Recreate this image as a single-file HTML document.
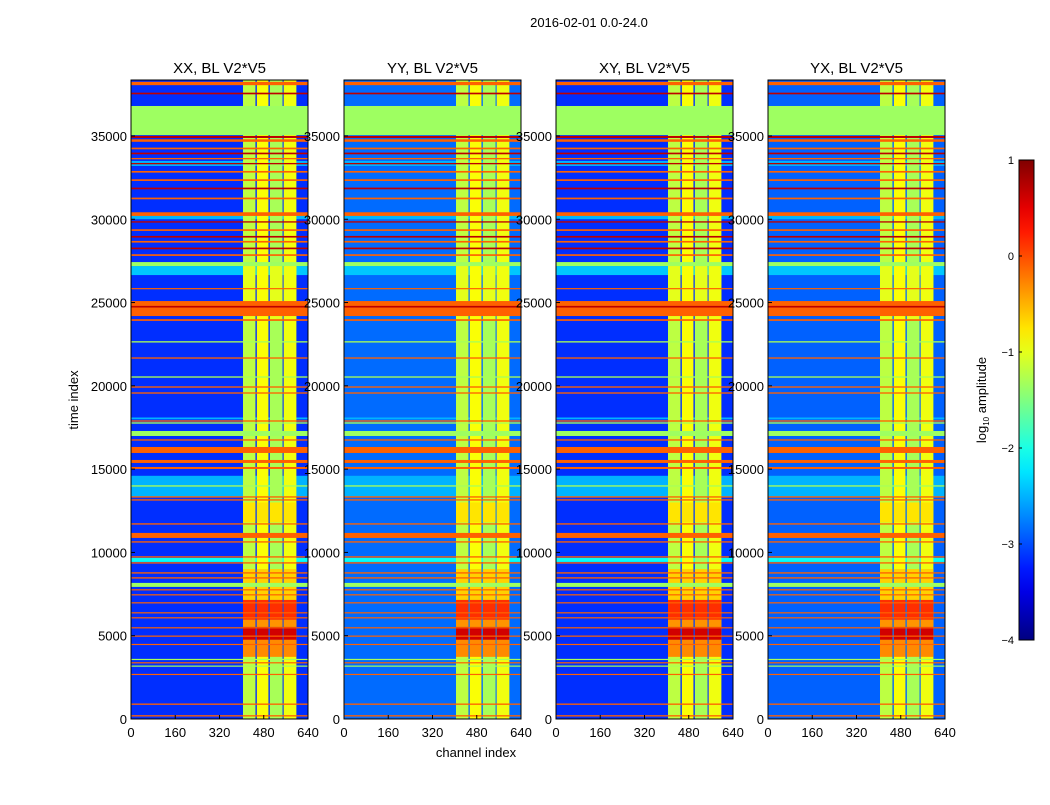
<!DOCTYPE html>
<html><head><meta charset="utf-8">
<style>
body{margin:0;background:#fff;}
svg text{font-family:"Liberation Sans",sans-serif;fill:#000;}
</style></head>
<body>
<svg id="fig" width="1050" height="800" xmlns="http://www.w3.org/2000/svg">
<rect width="1050" height="800" fill="#fff"/>
<text x="589" y="27" font-size="13" text-anchor="middle">2016-02-01 0.0-24.0</text>
<text x="476" y="757" font-size="13" text-anchor="middle">channel index</text>
<text transform="translate(78,400) rotate(-90)" font-size="13" text-anchor="middle">time index</text>
<g id="panels"></g>
<g id="cbar"></g>
<text transform="translate(986,400) rotate(-90)" font-size="13" text-anchor="middle">log<tspan font-size="8" dy="3">10</tspan><tspan dy="-3"> amplitude</tspan></text>
</svg>
<script>
// ---- data ----
const panelTitles = ["XX, BL V2*V5","YY, BL V2*V5","XY, BL V2*V5","YX, BL V2*V5"];
const panelBackground = [-3.15, -2.85, -3.15, -2.9];
const xTicks = [0,160,320,480,640];
const yTicks = [0,5000,10000,15000,20000,25000,30000,35000];
const cbarTicks = [1,0,-1,-2,-3,-4];
// background bands [t0,t1,value]
const bgBands = [[26650,27190,-2.4],[13300,14600,-2.5],[9430,9670,-2.1],[17990,18100,-2.5],[30000,30300,-2.5],[33200,33500,-2.5]];
// channel bands [c0,c1,value]
const chanBands = [[405,450,-1.2],[455,497,-0.9],[502,548,-1.3],[552,598,-0.95]];
// hot rows within channel bands [t0,t1,value]
const hotRows = [[7150,9000,-0.65],[5950,7150,0.15],[5530,5950,-0.35],[4750,5530,0.6],[3730,4750,-0.3],[11800,13000,-0.75],[24000,27200,-1.0]];
// flagged full-width rows [t0,t1,value]
const flagRows = [
[38050,38250,-0.1],[37500,37600,0.7],[36800,35050,-1.35],[34880,35000,0.7],[34650,34800,-0.1],
[34200,34300,-0.1],[33900,34000,0.7],[33600,33680,-0.1],[33300,33380,0.7],[32800,32900,-0.1],
[32300,32400,-0.1],[31800,31900,0.7],[31200,31300,-0.1],[30200,30420,-0.1],[29800,29880,0.7],
[29300,29400,-0.1],[28900,29000,0.7],[28600,28700,-0.1],[28200,28300,0.7],[27800,27900,-0.1],
[27190,27430,-1.35],[25800,25870,-0.1],[24190,25090,-0.1],[24700,24800,0.7],[23900,24000,-0.1],
[22600,22680,-1.3],[21630,21710,-0.1],[20490,20570,-1.3],[19890,19970,-0.1],[19530,19610,-0.1],
[17850,17930,-0.1],[17730,17810,-1.3],[16990,17290,-1.35],[16710,16790,-0.1],[15970,16330,-0.1],
[15370,15550,-0.1],[15010,15130,-0.1],[13950,14030,-1.3],[13290,13370,-0.1],[13110,13190,-0.1],
[11670,11750,-0.1],[10870,11170,-0.1],[10590,10670,-0.1],[9690,9770,-0.1],[9330,9410,-0.1],
[8730,8810,-0.1],[8430,8510,-0.1],[7930,8170,-1.35],[7730,7790,-0.1],[7430,7490,-0.1],
[6950,7010,-0.1],[6350,6410,-0.1],[6050,6110,-0.1],[5450,5510,-0.1],[4950,5010,-0.1],
[4450,4510,-0.1],[3550,3610,-1.3],[3350,3410,-0.1],[3150,3210,-1.3],[2650,2710,-0.1],
[850,930,-0.1],[150,230,-0.1]];
// ---- layout ----
const panelX = [131,344,556,768];
const PW = 177, PT = 80, PB = 719, TMAX = 38360, CMAX = 640;
const NS = "http://www.w3.org/2000/svg";
function jet(v){
  const x = Math.max(0,Math.min(1,(v+4)/5));
  const c = t => Math.round(255*Math.max(0,Math.min(1,1.5-Math.abs(4*x-t))));
  return `rgb(${c(3)},${c(2)},${c(1)})`;
}
function el(tag, attrs, parent){
  const e = document.createElementNS(NS, tag);
  for (const k in attrs) e.setAttribute(k, attrs[k]);
  parent.appendChild(e); return e;
}
const root = document.getElementById('panels');
panelTitles.forEach((title, p) => {
  const x0 = panelX[p];
  const X = c => x0 + c/CMAX*PW;
  const Y = t => PB - t/TMAX*(PB-PT);
  const g = el('g', {}, root);
  
  
  const bg = el('rect', {x:x0, y:PT, width:PW, height:PB-PT, fill:jet(panelBackground[p])}, g);
  
  
  bgBands.forEach(b => {
    const r = el('rect', {x:x0, y:Y(Math.max(b[0],b[1])), width:PW, height:Math.abs(Y(b[0])-Y(b[1])), fill:jet(b[2])}, g);
    
    
  });
  chanBands.forEach(c => {
    const r = el('rect', {x:X(c[0]), y:PT, width:X(c[1])-X(c[0]), height:PB-PT, fill:jet(c[2])}, g);
    
    
    hotRows.forEach(h => {
      const hr = el('rect', {x:X(c[0]), y:Y(h[1]), width:X(c[1])-X(c[0]), height:Y(h[0])-Y(h[1]), fill:jet(Math.max(h[2], c[2]))}, g);
      
      
    });
  });
  flagRows.forEach(f => {
    const lo = Math.min(f[0],f[1]), hi = Math.max(f[0],f[1]);
    const r = el('rect', {x:x0, y:Y(hi), width:PW, height:Math.max(1.2, Y(lo)-Y(hi)), fill:jet(f[2])}, g);
    
    
  });
  const fr = el('rect', {x:x0, y:PT, width:PW, height:PB-PT, fill:'none', stroke:'#000', 'stroke-width':1}, g);
  
  
  const t = el('text', {x:x0+PW/2, y:73, 'font-size':15, 'text-anchor':'middle'}, g);
  t.textContent = title;
  
  
  xTicks.forEach(v => {
    const l = el('line', {x1:X(v), x2:X(v), y1:PB, y2:PB-4, stroke:'#000'}, g);
    
    
    const tx = el('text', {x:X(v), y:PB+18, 'font-size':13, 'text-anchor':'middle'}, g);
    tx.textContent = v;
    
    
  });
  yTicks.forEach(v => {
    const l = el('line', {x1:x0, x2:x0+4, y1:Y(v), y2:Y(v), stroke:'#000'}, g);
    
    
    const ty = el('text', {x:x0-4, y:Y(v)+5, 'font-size':13, 'text-anchor':'end'}, g);
    ty.textContent = v;
    
    
  });
});
// colorbar
const cb = document.getElementById('cbar');
const CX = 1019, CW = 15, CT = 160, CB = 640;
const defs = el('defs', {}, cb);
const grad = el('linearGradient', {id:'jetg', x1:0, y1:1, x2:0, y2:0}, defs);
for (let i=0;i<=20;i++){ el('stop', {offset:i/20, 'stop-color':jet(-4+5*i/20)}, grad); }
const cr = el('rect', {x:CX, y:CT, width:CW, height:CB-CT, fill:'url(#jetg)', stroke:'#000'}, cb);


cbarTicks.forEach(v => {
  const y = CB - (v+4)/5*(CB-CT);
  const l = el('line', {x1:CX, x2:CX+3, y1:y, y2:y, stroke:'#000'}, cb);
  
  
  const t = el('text', {x:CX-5, y:y+4, 'font-size':11, 'text-anchor':'end'}, cb);
  t.textContent = v < 0 ? '\u2212' + (-v) : String(v);
  
  
});
</script>
</body></html>
